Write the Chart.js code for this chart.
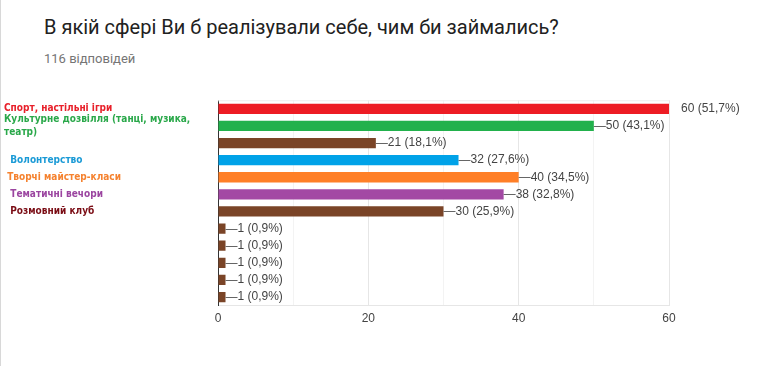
<!DOCTYPE html>
<html>
<head>
<meta charset="utf-8">
<script src="https://cdn.jsdelivr.net/npm/chart.js@4"></script>
<style>
  html, body { margin: 0; padding: 0; background: #fff; }
  body { width: 771px; height: 366px; position: relative; overflow: hidden; }
  .edge { position: absolute; left: 0; top: 0; width: 1px; height: 366px; background: #d8d8d8; }
  h1 { position: absolute; left: 44px; top: 15px; margin: 0; font: 400 20px Roboto, sans-serif; color: #212121; white-space: nowrap; }
  .sub { position: absolute; left: 44px; top: 51px; font: 400 13px Roboto, sans-serif; color: #757575; }
  #wrap { position: absolute; left: 0; top: 90px; width: 771px; height: 248px; }
</style>
</head>
<body>
<div class="edge"></div>
<h1>В якій сфері Ви б реалізували себе, чим би займались?</h1>
<div class="sub">116 відповідей</div>
<div id="wrap"><canvas id="chart"></canvas></div>
<script>
// дані з діаграми
const categories = [
  'Спорт, настільні ігри',
  ['Культурне дозвілля (танці, музика,', 'театр)'],
  '',
  '  Волонтерство',
  ' Творчі майстер-класи',
  '  Тематичні вечори',
  '  Розмовний клуб',
  '', '', '', '', ''
];
const counts = [60, 50, 21, 32, 40, 38, 30, 1, 1, 1, 1, 1];
const percents = ['51,7', '43,1', '18,1', '27,6', '34,5', '32,8', '25,9', '0,9', '0,9', '0,9', '0,9', '0,9'];
const barColors = ['#ed1c24', '#22b14c', '#7a4427', '#00a2e8', '#ff7f27', '#a349a4', '#7a4427',
  '#7a4427', '#7a4427', '#7a4427', '#7a4427', '#7a4427'];
const labelColors = ['#e8202a', '#2aa84a', '#000', '#1a9ad6', '#f5822f', '#9b45a0', '#7a0c14',
  '#000', '#000', '#000', '#000', '#000'];
const xTicks = [0, 20, 40, 60];

// підписи значень з лінією-виноскою
const valueLabels = {
  id: 'valueLabels',
  afterDatasetsDraw(chart) {
    const ctx = chart.ctx;
    const meta = chart.getDatasetMeta(0);
    const area = chart.chartArea;
    ctx.save();
    ctx.font = '12px "Liberation Sans", Arial, sans-serif';
    ctx.textBaseline = 'middle';
    meta.data.forEach((bar, i) => {
      const x = bar.x;
      const y = bar.y;
      const lineEnd = Math.min(x + 12, area.right);
      if (lineEnd > x + 1) {
        ctx.strokeStyle = '#666';
        ctx.lineWidth = 1;
        ctx.beginPath();
        ctx.moveTo(x, Math.round(y) + 0.5);
        ctx.lineTo(lineEnd, Math.round(y) + 0.5);
        ctx.stroke();
      }
      ctx.fillStyle = '#444';
      ctx.fillText(counts[i] + ' (' + percents[i] + '%)', x + 12, y);
    });
    ctx.restore();
  }
};

const topEdge = {
  id: 'topEdge',
  beforeDatasetsDraw(chart) {
    const { ctx, chartArea } = chart;
    ctx.save();
    ctx.strokeStyle = '#eeeeee';
    ctx.beginPath();
    ctx.moveTo(chartArea.left, chartArea.top + 0.5);
    ctx.lineTo(chartArea.right, chartArea.top + 0.5);
    ctx.stroke();
    ctx.restore();
  }
};

new Chart(document.getElementById('chart'), {
  type: 'bar',
  data: {
    labels: categories,
    datasets: [{
      data: counts,
      backgroundColor: barColors,
      borderWidth: 0,
      categoryPercentage: 1,
      barPercentage: 0.6
    }]
  },
  options: {
    indexAxis: 'y',
    responsive: true,
    maintainAspectRatio: false,
    animation: false,
    layout: { padding: { left: 4, right: 102, top: 9, bottom: 6 } },
    plugins: { legend: { display: false }, tooltip: { enabled: false } },
    scales: {
      x: {
        min: 0,
        max: 60,
        ticks: {
          stepSize: 10,
          color: '#444',
          padding: 6,
          font: { family: '"Liberation Sans", Arial, sans-serif', size: 12 },
          callback: v => xTicks.includes(v) ? v : ''
        },
        grid: {
          color: c => c.tick && c.tick.value % 20 === 0 ? '#e6e6e6' : '#f3f3f3',
          drawTicks: false
        },
        border: { color: '#e6e6e6' }
      },
      y: {
        afterFit: s => { s.width = 214; },
        ticks: {
          crossAlign: 'far',
          autoSkip: false,
          padding: 4,
          color: c => labelColors[c.index],
          font: { family: '"DejaVu Sans Condensed", "Liberation Sans", sans-serif', size: 10, weight: 'bold', lineHeight: 1.25 }
        },
        grid: { display: false, drawTicks: false },
        border: { color: '#333' }
      }
    }
  },
  plugins: [valueLabels, topEdge]
});
</script>
</body>
</html>
